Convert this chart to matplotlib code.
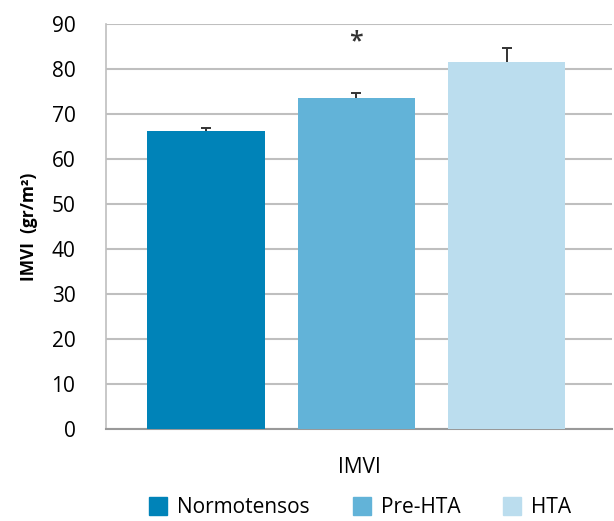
import matplotlib
matplotlib.use("Agg")
import matplotlib.pyplot as plt
from matplotlib.lines import Line2D

plt.rcParams['font.family'] = ['Open Sans', 'DejaVu Sans']

categories = ["Normotensos", "Pre-HTA", "HTA"]
values = [66.3, 73.5, 81.7]
err_upper = [0.6, 1.3, 3.0]
colors = ["#0083B8", "#62B3D8", "#BBDDEE"]
yticks = [0, 10, 20, 30, 40, 50, 60, 70, 80, 90]
star_value = 86.0

fig = plt.figure(figsize=(6.14, 5.21), dpi=100)
ax = fig.add_axes([0.1726, 0.1766, 0.8241, 0.777])

x = list(range(len(categories)))
ax.bar(x, values, width=0.78, color=colors, zorder=3)
eb = ax.errorbar(x, values, yerr=[[0]*3, err_upper], fmt='none', ecolor='#333333',
                 elinewidth=1.4, capsize=3.5, capthick=1.4, zorder=4)
caplines = eb[1]
if len(caplines) == 2:
    caplines[0].set_visible(False)
ax.text(1, star_value, "*", ha='center', va='center', fontsize=18,
        fontweight='semibold', color='#333333')

ax.set_ylim(0, 90)
ax.set_xlim(-0.664, 2.70)
ax.set_yticks(yticks)
ax.set_xticks([])
ax.grid(axis='y', color='#BFBFBF', linewidth=1.5, zorder=0)
ax.tick_params(axis='y', length=0, labelsize=15, pad=22, colors='#000000')
for s in ['top', 'right']:
    ax.spines[s].set_visible(False)
ax.spines['left'].set_color('#BFBFBF')
ax.spines['left'].set_linewidth(1.2)
ax.spines['bottom'].set_color('#999999')
ax.spines['bottom'].set_linewidth(1.5)
ax.set_axisbelow(True)

ax.set_ylabel("IMVI  (gr/m²)", fontsize=12.5, fontweight='bold', labelpad=10)
ax.set_xlabel("IMVI", fontsize=15, labelpad=20)

handles = [Line2D([0], [0], marker='s', linestyle='none', markersize=13,
                  markerfacecolor=c, markeredgecolor=c) for c in colors]
fig.legend(handles, categories, loc='lower center', bbox_to_anchor=(0.584, -0.03),
           ncol=3, frameon=False, fontsize=15, handletextpad=0.3,
           columnspacing=1.9, handlelength=1.2)

fig.savefig("out.png", dpi=100)
